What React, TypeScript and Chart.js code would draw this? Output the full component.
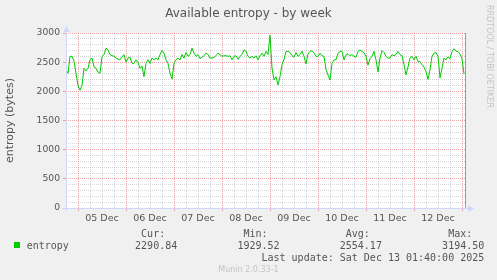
import React, { useEffect, useRef } from 'react';
import { Chart, registerables } from 'chart.js';

Chart.register(...registerables);

// ---- data (one sample per hour, starting Thu Dec 04 18:00) ----
const entropyValues = [
  2370, 2310, 2600, 2600, 2520, 2310, 2100, 2020, 2100, 2395,
  2350, 2395, 2545, 2570, 2420, 2395, 2330, 2310, 2590, 2630,
  2740, 2710, 2630, 2610, 2605, 2570, 2555, 2540, 2590, 2630,
  2500, 2570, 2585, 2480, 2480, 2540, 2495, 2395, 2435, 2250,
  2480, 2540, 2480, 2570, 2540, 2570, 2540, 2630, 2700, 2655,
  2540, 2480, 2310, 2210, 2480, 2540, 2570, 2540, 2630, 2570,
  2665, 2600, 2630, 2740, 2655, 2600, 2630, 2560, 2585, 2610,
  2655, 2630, 2570, 2570, 2585, 2610, 2655, 2630, 2600, 2610,
  2610, 2600, 2610, 2540, 2600, 2610, 2550, 2600, 2630, 2710,
  2685, 2600, 2570, 2600, 2570, 2610, 2540, 2610, 2655, 2600,
  2685, 2630, 2960, 2395, 2195, 2250, 2110, 2250, 2455, 2550,
  2685, 2685, 2665, 2610, 2585, 2665, 2600, 2630, 2685, 2600,
  2470, 2640, 2685, 2695, 2655, 2600, 2600, 2655, 2610, 2600,
  2370, 2280, 2195, 2480, 2540, 2540, 2655, 2685, 2685, 2540,
  2630, 2645, 2610, 2630, 2600, 2585, 2685, 2710, 2685, 2665,
  2600, 2450, 2560, 2600, 2685, 2540, 2330, 2570, 2700, 2665,
  2600, 2570, 2570, 2630, 2610, 2630, 2685, 2630, 2610, 2460,
  2280, 2420, 2570, 2600, 2540, 2600, 2510, 2510, 2455, 2415,
  2340, 2205, 2370, 2600, 2655, 2665, 2600, 2230, 2395, 2570,
  2540, 2590, 2560, 2680, 2730, 2690, 2680, 2640, 2560, 2300,
];
const dayLabels = ['05 Dec', '06 Dec', '07 Dec', '08 Dec', '09 Dec', '10 Dec', '11 Dec', '12 Dec'];
const yMax = 3000;
const yMajorStep = 500;
const yMinorStep = 100;
const rangeHours = 200; // Dec 04 18:00 -> Dec 13 02:00
const firstMidnight = 6; // hours from start to Dec 05 00:00
const minorHourStep = 6;
const seriesName = 'entropy';
const statLabels = ['Cur:', 'Min:', 'Avg:', 'Max:'];
const statValues = ['2290.84', '1929.52', '2554.17', '3194.50'];
const titleText = 'Available entropy - by week';
const yAxisTitle = 'entropy (bytes)';
const lastUpdate = 'Last update: Sat Dec 13 01:40:00 2025';
const footerText = 'Munin 2.0.33-1';
const watermark = 'RRDTOOL / TOBI OETIKER';

// ---- styles ----
const TEXT = '#555555';
const AXIS = '#CFD6F8';
const MGRID = 'rgba(222,80,80,0.5)';
const GRID = 'rgba(143,143,143,0.36)';
const LINE = '#00CC00';

const muninPlugin = {
  id: 'muninDecor',
  beforeDraw(chart: any) {
    const { ctx, chartArea: a } = chart;
    ctx.save();
    ctx.fillStyle = '#F0F0F0';
    ctx.fillRect(0, 0, chart.width, chart.height);
    ctx.fillStyle = '#FFFFFF';
    ctx.fillRect(a.left, a.top, a.right - a.left, a.bottom - a.top);
    ctx.restore();
  },
  afterDraw(chart: any) {
    const { ctx, chartArea: a } = chart;
    ctx.save();
    // right frame line
    ctx.strokeStyle = '#999999';
    ctx.lineWidth = 1;
    ctx.beginPath();
    ctx.moveTo(a.right - 0.5, a.top);
    ctx.lineTo(a.right - 0.5, a.bottom);
    ctx.stroke();
    // axes
    ctx.strokeStyle = AXIS;
    ctx.fillStyle = AXIS;
    ctx.beginPath();
    ctx.moveTo(a.left + 0.5, a.bottom + 3);
    ctx.lineTo(a.left + 0.5, a.top - 3);
    ctx.moveTo(a.left - 4, a.bottom + 0.5);
    ctx.lineTo(a.right + 3, a.bottom + 0.5);
    ctx.stroke();
    ctx.beginPath();
    ctx.moveTo(a.left + 0.5, a.top - 7);
    ctx.lineTo(a.left - 2.5, a.top - 1);
    ctx.lineTo(a.left + 3.5, a.top - 1);
    ctx.closePath();
    ctx.fill();
    ctx.beginPath();
    ctx.moveTo(a.right + 8, a.bottom + 0.5);
    ctx.lineTo(a.right + 2, a.bottom - 2.5);
    ctx.lineTo(a.right + 2, a.bottom + 3.5);
    ctx.closePath();
    ctx.fill();

    // title
    ctx.fillStyle = TEXT;
    ctx.font = '12px "DejaVu Sans"';
    ctx.textAlign = 'center';
    ctx.textBaseline = 'alphabetic';
    ctx.fillText(titleText, 248.5, 17);

    // watermark
    ctx.save();
    ctx.translate(488.7, 56.5);
    ctx.rotate(Math.PI / 2);
    ctx.fillStyle = '#C4C4C4';
    ctx.font = '8px "DejaVu Sans"';
    ctx.textAlign = 'center';
    ctx.textBaseline = 'middle';
    ctx.fillText(watermark, 0, 0);
    ctx.restore();

    // legend
    ctx.font = '10px "DejaVu Sans Mono"';
    ctx.textAlign = 'left';
    ctx.textBaseline = 'alphabetic';
    const cw = ctx.measureText('0').width;
    const x0 = 26.7;
    ctx.fillStyle = LINE;
    ctx.fillRect(14, 242, 6, 6);
    ctx.fillStyle = TEXT;
    ctx.fillText(seriesName, x0, 248.5);
    statLabels.forEach((s, i) => ctx.fillText(s, x0 + (19 + 17 * i) * cw, 236.5));
    statValues.forEach((s, i) => ctx.fillText(s, x0 + (18 + 17 * i) * cw, 248.5));
    ctx.fillText(lastUpdate, x0 + 39 * cw, 260.5);

    // footer
    ctx.fillStyle = '#C4C4C4';
    ctx.font = '8px "DejaVu Sans"';
    ctx.textAlign = 'center';
    ctx.fillText(footerText, 248.5, 272);
    ctx.restore();
  },
};

export default function App() {
  const ref = useRef<HTMLCanvasElement>(null);
  useEffect(() => {
    document.body.style.margin = '0';
    Chart.defaults.font.family = '"DejaVu Sans"';
    const chart = new Chart(ref.current as HTMLCanvasElement, {
      type: 'line',
      data: {
        datasets: [
          {
            label: seriesName,
            data: entropyValues.map((v, i) => ({ x: i, y: v })),
            borderColor: LINE,
            borderWidth: 1,
            pointRadius: 0,
            tension: 0,
            fill: false,
          },
        ],
      },
      options: {
        responsive: false,
        animation: false,
        devicePixelRatio: 1,
        layout: { padding: { left: 0, top: 33, right: 31, bottom: 0 } },
        plugins: { legend: { display: false }, title: { display: false }, tooltip: { enabled: false } },
        scales: {
          x: {
            type: 'linear',
            min: 0,
            max: rangeHours,
            afterFit: (s: any) => { s.height = 72; },
            afterBuildTicks: (s: any) => {
              const t = [];
              for (let h = 0; h < rangeHours; h += minorHourStep) t.push({ value: h });
              s.ticks = t;
            },
            grid: {
              color: (c: any) => ((c.tick?.value - firstMidnight) % 24 === 0 ? MGRID : GRID),
              tickColor: (c: any) => ((c.tick?.value - firstMidnight) % 24 === 0 ? MGRID : 'rgba(0,0,0,0)'),
              tickLength: 3,
              drawTicks: true,
            },
            border: { display: false, dash: [1, 1] },
            ticks: {
              autoSkip: false,
              maxRotation: 0,
              minRotation: 0,
              padding: 2,
              color: TEXT,
              font: { size: 9.5, family: '"DejaVu Sans"' },
              callback: (v: any) => {
                const k = (Number(v) - firstMidnight - 12) / 24;
                return Number.isInteger(k) && k >= 0 && k < dayLabels.length ? dayLabels[k] : '';
              },
            },
          },
          y: {
            type: 'linear',
            min: 0,
            max: yMax,
            afterFit: (s: any) => { s.width = 66; },
            afterBuildTicks: (s: any) => {
              const t = [];
              for (let v = 0; v <= yMax; v += yMinorStep) t.push({ value: v });
              s.ticks = t;
            },
            grid: {
              color: (c: any) => (c.tick?.value % yMajorStep === 0 ? MGRID : GRID),
              tickColor: (c: any) => (c.tick?.value % yMajorStep === 0 ? MGRID : 'rgba(0,0,0,0)'),
              tickLength: 3,
              drawTicks: true,
            },
            border: { display: false, dash: [1, 1] },
            ticks: {
              autoSkip: false,
              padding: 3,
              color: TEXT,
              font: { size: 9.2, family: '"DejaVu Sans"' },
              callback: (v: any) => (Number(v) % yMajorStep === 0 ? String(v) : ''),
            },
            title: {
              display: true,
              text: yAxisTitle,
              color: TEXT,
              font: { size: 11, family: '"DejaVu Sans"' },
            },
          },
        },
      },
      plugins: [muninPlugin],
    } as any);
    return () => chart.destroy();
  }, []);
  return (
    <div style={{ position: 'absolute', left: 0, top: 0, width: 497, height: 280 }}>
      <canvas ref={ref} width={497} height={280} style={{ display: 'block', width: 497, height: 280 }} />
    </div>
  );
}
